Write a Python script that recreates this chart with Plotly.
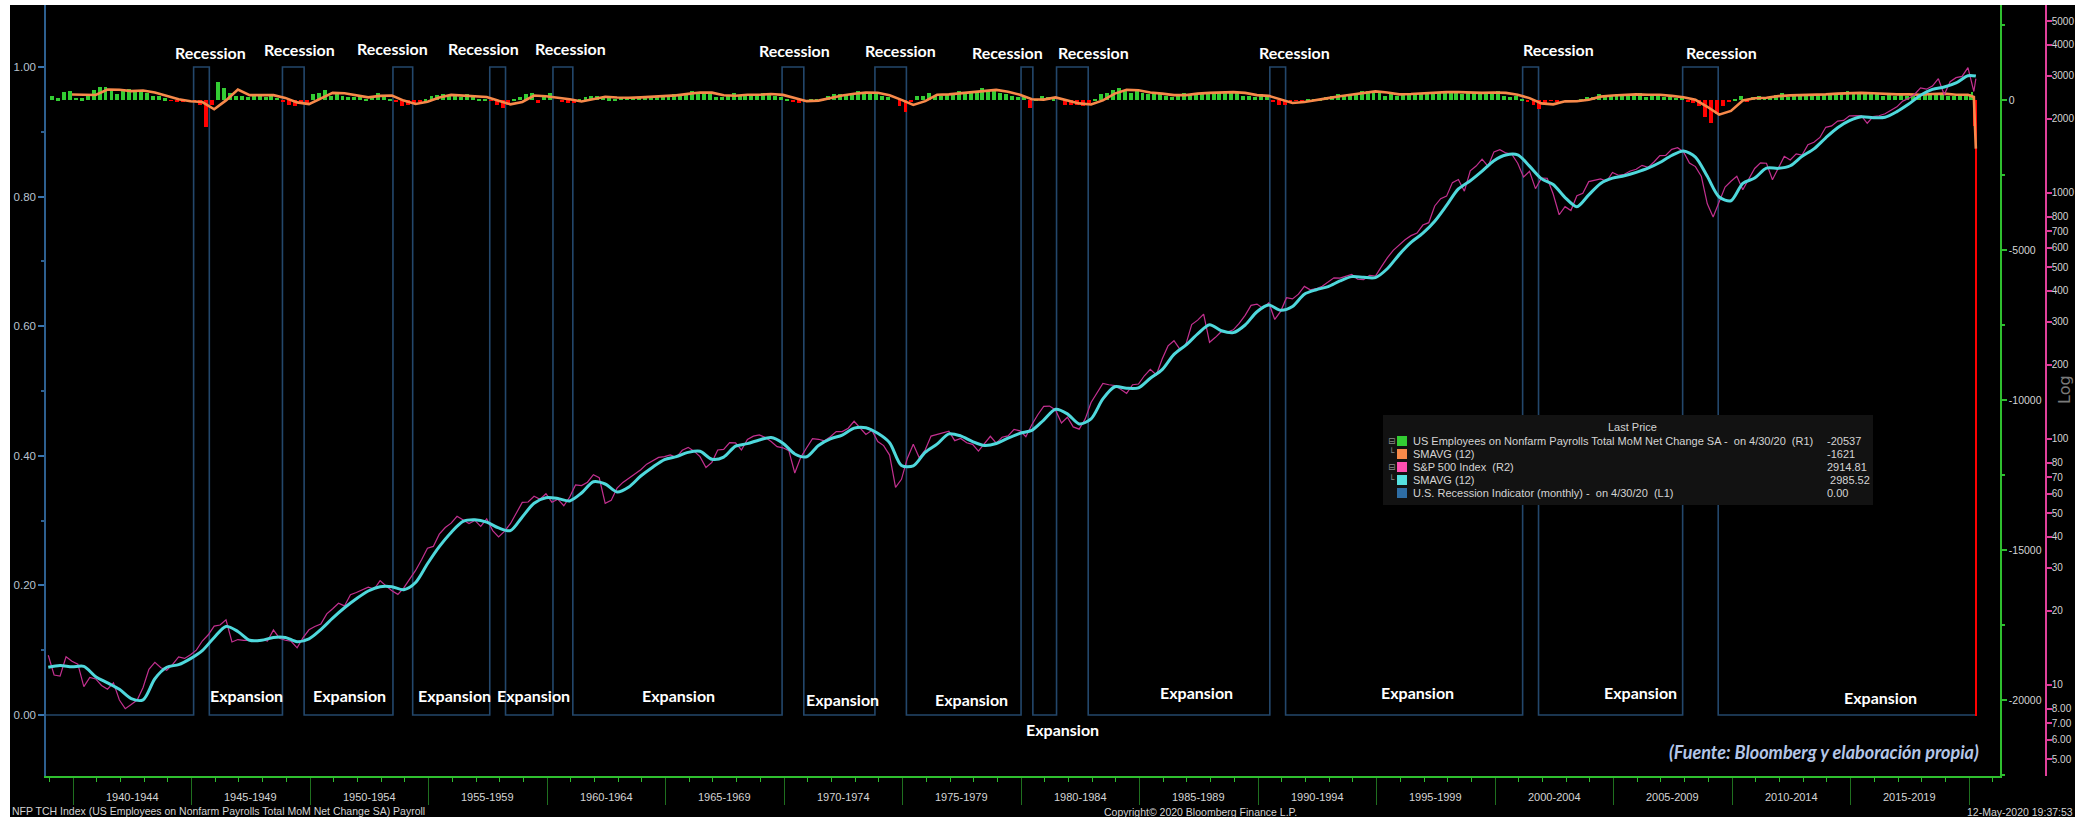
"""
NFP vs S&P 500 con indicador de recesión (estilo Bloomberg)
"""

import pandas as pd
import plotly.graph_objects as go

# ---------------- datos ----------------

# S&P 500, cierre trimestral (dic-1938 ... mar-2020) + abr-2020
sp500 = [
    13.21,
    10.98, 10.86, 13.02, 12.49,      # 1939
    12.15, 9.85, 10.73, 10.58,       # 1940
    9.95, 9.61, 10.20, 8.69,         # 1941
    8.01, 8.33, 8.68, 9.77,          # 1942
    11.58, 12.35, 11.75, 11.48,      # 1943
    12.12, 13.00, 12.82, 13.28,      # 1944
    13.86, 15.09, 16.00, 17.36,      # 1945
    17.53, 18.40, 14.96, 15.30,      # 1946
    15.17, 15.21, 15.11, 15.30,      # 1947
    15.08, 16.74, 15.49, 15.20,      # 1948
    15.06, 14.16, 15.58, 16.76,      # 1949
    17.29, 17.69, 19.45, 20.41,      # 1950
    21.48, 20.96, 23.26, 23.77,      # 1951
    24.37, 24.96, 24.54, 26.57,      # 1952
    25.29, 24.14, 23.35, 24.81,      # 1953
    26.94, 29.21, 32.31, 35.98,      # 1954
    36.58, 41.03, 43.67, 45.48,      # 1955
    48.48, 46.97, 45.35, 46.67,      # 1956
    44.11, 47.37, 42.42, 39.99,      # 1957
    42.10, 45.24, 50.06, 55.21,      # 1958
    55.44, 58.47, 56.88, 59.89,      # 1959
    55.34, 56.92, 53.52, 58.11,      # 1960
    65.06, 64.64, 66.73, 71.55,      # 1961
    69.55, 54.75, 56.27, 63.10,      # 1962
    66.57, 69.37, 71.70, 75.02,      # 1963
    78.98, 81.69, 84.18, 84.75,      # 1964
    86.16, 84.12, 89.96, 92.43,      # 1965
    89.23, 84.74, 76.56, 80.33,      # 1966
    90.20, 90.64, 96.71, 96.47,      # 1967
    90.20, 99.58, 102.67, 103.86,    # 1968
    101.51, 97.71, 93.12, 92.06,     # 1969
    89.63, 72.72, 84.21, 92.15,      # 1970
    100.31, 99.70, 98.34, 102.09,    # 1971
    107.20, 107.14, 110.55, 118.05,  # 1972
    111.52, 104.26, 108.43, 97.55,   # 1973
    93.98, 86.00, 63.54, 68.56,      # 1974
    83.36, 95.19, 83.87, 90.19,      # 1975
    102.77, 104.28, 105.24, 107.46,  # 1976
    98.42, 100.48, 96.53, 95.10,     # 1977
    89.21, 95.53, 102.54, 96.11,     # 1978
    101.59, 102.91, 109.32, 107.94,  # 1979
    102.09, 114.24, 125.46, 135.76,  # 1980
    136.00, 131.21, 116.18, 122.55,  # 1981
    111.96, 109.61, 120.42, 140.64,  # 1982
    152.96, 168.11, 166.07, 164.93,  # 1983
    159.18, 153.18, 166.10, 167.24,  # 1984
    180.66, 191.85, 182.08, 211.28,  # 1985
    238.90, 250.84, 231.32, 242.17,  # 1986
    291.70, 304.00, 321.83, 247.08,  # 1987
    258.89, 273.50, 271.91, 277.72,  # 1988
    294.87, 317.98, 349.15, 353.40,  # 1989
    339.94, 358.02, 306.05, 330.22,  # 1990
    375.22, 371.16, 387.86, 417.09,  # 1991
    403.69, 408.14, 417.80, 435.71,  # 1992
    451.67, 450.53, 458.93, 466.45,  # 1993
    445.77, 444.27, 462.69, 459.27,  # 1994
    500.71, 544.75, 584.41, 615.93,  # 1995
    645.50, 670.63, 687.33, 740.74,  # 1996
    757.12, 885.14, 947.28, 970.43,  # 1997
    1101.75, 1133.84, 1017.01, 1229.23,  # 1998
    1286.37, 1372.71, 1282.71, 1469.25,  # 1999
    1498.58, 1454.60, 1436.51, 1320.28,  # 2000
    1160.33, 1224.42, 1040.94, 1148.08,  # 2001
    1147.39, 989.82, 815.28, 879.82,     # 2002
    848.18, 974.50, 995.97, 1111.92,     # 2003
    1126.21, 1140.84, 1114.58, 1211.92,  # 2004
    1180.59, 1191.33, 1228.81, 1248.29,  # 2005
    1294.83, 1270.20, 1335.85, 1418.30,  # 2006
    1420.86, 1503.35, 1526.75, 1468.36,  # 2007
    1322.70, 1280.00, 1166.36, 903.25,   # 2008
    797.87, 919.32, 1057.08, 1115.10,    # 2009
    1169.43, 1030.71, 1141.20, 1257.64,  # 2010
    1325.83, 1320.64, 1131.42, 1257.60,  # 2011
    1408.47, 1362.16, 1440.67, 1426.19,  # 2012
    1569.19, 1606.28, 1681.55, 1848.36,  # 2013
    1872.34, 1960.23, 1972.29, 2058.90,  # 2014
    2067.89, 2063.11, 1920.03, 2043.94,  # 2015
    2059.74, 2098.86, 2168.27, 2238.83,  # 2016
    2362.72, 2423.41, 2519.36, 2673.61,  # 2017
    2640.87, 2718.37, 2913.98, 2506.85,  # 2018
    2834.40, 2941.76, 2976.74, 3230.78,  # 2019
    2584.59,                             # mar-2020
    2914.81,                             # abr-2020
]

# SMAVG(12) del S&P, semestral (dic-1938, jun/dic 1939..2019) + abr-2020
sp500_sma = [
    11.8,
    12.0, 11.85, 11.9, 10.8, 10.2, 9.6, 8.8, 8.7, 10.6, 11.8,        # 1939-43
    12.1, 12.8, 13.8, 15.6, 17.3, 16.5, 15.2, 15.2, 15.6, 15.6,      # 1944-48
    15.0, 15.4, 16.8, 18.7, 20.6, 22.4, 24.1, 25.1, 25.1, 24.4,      # 1949-53
    26.1, 31.1, 36.5, 41.7, 46.2, 46.9, 45.9, 43.5, 42.4, 48.2,      # 1954-58
    54.8, 57.7, 57.3, 56.0, 60.3, 67.0, 65.6, 60.9, 63.8, 70.7,      # 1959-63
    76.8, 82.4, 84.8, 88.2, 89.1, 82.7, 84.4, 93.5, 95.7, 99.1,      # 1964-68
    101.4, 96.1, 86.9, 84.7, 94.1, 100.1, 103.7, 110.7, 111.1, 105.4,  # 1969-73
    96.5, 78.0, 77.7, 88.2, 95.3, 104.9, 102.9, 97.6, 94.1, 95.8,    # 1974-78
    100.8, 105.4, 108.4, 119.4, 132.1, 126.5, 115.1, 120.7, 145.5, 163.0,  # 1979-83
    160.8, 161.4, 176.5, 191.5, 220.8, 240.8, 267.3, 291.2, 275.3, 270.5,  # 1984-88
    290.6, 328.9, 350.1, 333.6, 345.7, 387.8, 404.2, 416.3, 438.9, 456.9,  # 1989-93
    453.9, 453.0, 491.9, 561.5, 629.1, 686.1, 767.6, 890.0, 1038.3, 1120.5,  # 1994-98
    1226.3, 1352.8, 1426.3, 1427.5, 1285.4, 1143.4, 1081.6, 958.1, 879.4, 982.6,  # 1999-03
    1093.7, 1148.4, 1174.6, 1212.3, 1260.5, 1329.8, 1419.6, 1479.8, 1399.5, 1168.1,  # 2004-08
    963.0, 930.0, 1093.1, 1149.7, 1261.3, 1258.9, 1289.9, 1409.4, 1510.6, 1676.3,  # 2009-13
    1840.6, 1965.9, 2040.5, 2023.7, 2030.6, 2141.4, 2298.3, 2494.8, 2638.1, 2695.0,  # 2014-18
    2799.2, 2995.9,                                                    # 2019
    2985.52,                                                           # abr-2020
]

# Nómina no agrícola, variación mensual media por trimestre (miles), 1939..2019
payroll_q = [
    120, 60, 260, 300,       # 1939
    80, 60, 200, 330,        # 1940
    450, 420, 300, 200,      # 1941
    300, 380, 330, 260,      # 1942
    250, 150, 120, 60,       # 1943
    -20, -60, -40, -50,      # 1944
    -30, -150, -900, -150,   # 1945
    600, 400, 250, 150,      # 1946
    150, 100, 200, 200,      # 1947
    100, 150, 80, -50,       # 1948
    -150, -200, -50, -150,   # 1949
    200, 250, 350, 150,      # 1950
    250, 150, 100, 100,      # 1951
    100, 50, 150, 250,       # 1952
    150, 50, -80, -200,      # 1953
    -150, -100, -40, 50,     # 1954
    150, 180, 200, 150,      # 1955
    120, 100, 200, 130,      # 1956
    50, 20, -30, -150,       # 1957
    -250, -150, 50, 100,     # 1958
    200, 250, -100, 150,     # 1959
    250, 0, -50, -100,       # 1960
    -100, 50, 100, 120,      # 1961
    120, 100, 60, 50,        # 1962
    80, 100, 100, 70,        # 1963
    120, 130, 150, 100,      # 1964
    170, 200, 200, 250,      # 1965
    300, 250, 230, 200,      # 1966
    100, 100, 150, 220,      # 1967
    150, 180, 170, 200,      # 1968
    230, 200, 150, 100,      # 1969
    50, -50, -100, -50,      # 1970
    20, 50, 50, 150,         # 1971
    200, 200, 180, 250,      # 1972
    300, 250, 200, 220,      # 1973
    120, 100, 0, -200,       # 1974
    -400, -50, 150, 150,     # 1975
    250, 150, 150, 200,      # 1976
    250, 300, 250, 300,      # 1977
    300, 400, 300, 350,      # 1978
    250, 200, 150, 100,      # 1979
    100, -250, 50, 150,      # 1980
    100, 50, 0, -150,        # 1981
    -150, -150, -200, -100,  # 1982
    50, 200, 250, 350,       # 1983
    400, 350, 250, 300,      # 1984
    250, 200, 200, 200,      # 1985
    150, 100, 150, 250,      # 1986
    200, 250, 250, 250,      # 1987
    250, 250, 250, 300,      # 1988
    250, 150, 150, 100,      # 1989
    200, 100, -50, -150,     # 1990
    -150, -50, -30, -30,     # 1991
    50, 50, 50, 100,         # 1992
    150, 200, 150, 200,      # 1993
    250, 300, 300, 300,      # 1994
    250, 150, 200, 150,      # 1995
    200, 250, 200, 250,      # 1996
    250, 250, 250, 300,      # 1997
    250, 250, 200, 250,      # 1998
    250, 250, 250, 250,      # 1999
    300, 150, 100, 150,      # 2000
    50, -50, -150, -300,     # 2001
    -100, -30, -50, 0,       # 2002
    -50, -60, 50, 100,       # 2003
    100, 200, 150, 150,      # 2004
    200, 200, 150, 200,      # 2005
    250, 100, 150, 200,      # 2006
    100, 100, 80, 100,       # 2007
    -50, -100, -200, -550,   # 2008
    -750, -450, -200, -50,   # 2009
    30, 150, -50, 100,       # 2010
    150, 100, 100, 170,      # 2011
    250, 100, 150, 150,      # 2012
    200, 150, 200, 200,      # 2013
    200, 250, 200, 300,      # 2014
    200, 250, 200, 250,      # 2015
    200, 150, 250, 150,      # 2016
    200, 150, 150, 200,      # 2017
    250, 200, 200, 200,      # 2018
    150, 150, 200, 200,      # 2019
]
# ene..abr 2020, mensual
payroll_2020 = [214, 251, -870, -20537]

# SMAVG(12) de la nómina, semestral (dic-1939, jun/dic 1940..2019) + mar/abr-2020
payroll_sma = [
    185,
    175, 168, 350, 343, 295, 318, 248, 145, 25, -43,        # 1940-44
    -68, -308, -13, 350, 163, 163, 163, 70, -80, -138,      # 1945-49
    63, 238, 225, 150, 88, 138, 150, -20, -133, -60,        # 1950-54
    85, 170, 143, 138, 100, -28, -145, -63, 150, 125,       # 1955-59
    75, 25, -50, 43, 110, 83, 73, 88, 105, 125,             # 1960-64
    155, 205, 250, 245, 158, 143, 175, 175, 200, 170,       # 1965-69
    63, -38, -20, 68, 150, 208, 245, 243, 160, 5,           # 1970-74
    -163, -38, 175, 188, 225, 275, 313, 338, 275, 175,      # 1975-79
    25, 13, 88, 0, -113, -150, -13, 213, 338, 325,          # 1980-84
    250, 213, 163, 163, 213, 238, 250, 263, 238, 163,       # 1985-89
    138, 25, -100, -65, 10, 63, 125, 175, 225, 288,         # 1990-94
    250, 188, 200, 225, 238, 263, 263, 238, 238, 250,       # 1995-99
    238, 175, 63, -113, -145, -45, -40, 10, 113, 150,       # 2000-04
    175, 188, 175, 175, 138, 95, 8, -225, -488, -363,       # 2005-09
    -18, 58, 75, 130, 155, 163, 163, 188, 213, 238,         # 2010-14
    238, 225, 200, 188, 188, 175, 200, 213, 175, 175,       # 2015-19
    100, -1621,                                             # mar/abr-2020
]

# Recesiones (indicador = 1 entre inicio y fin)
rec_start = ['1945-02', '1948-11', '1953-07', '1957-08', '1960-04', '1969-12',
             '1973-11', '1980-01', '1981-07', '1990-07', '2001-03', '2007-12']
rec_end = ['1945-10', '1949-10', '1954-05', '1958-04', '1961-02', '1970-11',
           '1975-03', '1980-07', '1982-11', '1991-03', '2001-11', '2009-06']

period_starts = list(range(1940, 2020, 5))

# ---------------- fechas ----------------
q3 = pd.DateOffset(months=3)
m6 = pd.DateOffset(months=6)

sp_dates = list(pd.date_range('1938-12-15', periods=len(sp500) - 1, freq=q3)) + [pd.Timestamp('2020-04-15')]
sma_dates = list(pd.date_range('1938-12-15', periods=len(sp500_sma) - 1, freq=m6)) + [pd.Timestamp('2020-04-15')]
pay_dates = list(pd.date_range('1939-02-15', periods=len(payroll_q), freq=q3)) + \
    list(pd.date_range('2020-01-15', periods=len(payroll_2020), freq=pd.DateOffset(months=1)))
pay_values = payroll_q + payroll_2020
pay_widths = [60 * 86400000] * len(payroll_q) + [20 * 86400000] * len(payroll_2020)
pay_colors = ['#33cc33' if v >= 0 else '#ff0000' for v in pay_values]
pay_sma_dates = list(pd.date_range('1939-12-15', periods=len(payroll_sma) - 2, freq=m6)) + \
    [pd.Timestamp('2020-03-15'), pd.Timestamp('2020-04-15')]

months = pd.date_range('1938-10-01', '2020-05-01', freq='MS')
rec_flag = []
for m in months:
    flag = 0
    for s, e in zip(rec_start, rec_end):
        if pd.Timestamp(s) <= m < pd.Timestamp(e):
            flag = 1
    rec_flag.append(flag)

# ---------------- lienzo ----------------
W, H = 2075, 817
ML, MR, MT, MB = 46, 29, 5, 41


def px(x):
    return (x - ML) / (W - ML - MR)


def py(y):
    return (H - MB - y) / (H - MT - MB)


NARROW = "Liberation Sans, Arial, sans-serif"
BOLD = "Lato, Open Sans, sans-serif"
TXT = '#d4d4d4'


def note(x, y, text, size=11, color=TXT, family=NARROW, xanchor='center', **kw):
    d = dict(x=px(x), y=py(y), xref='paper', yref='paper', text=text, showarrow=False,
             xanchor=xanchor, yanchor='middle',
             font=dict(family=family, size=size, color=color))
    d.update(kw)
    return d


fig = go.Figure()

fig.add_trace(go.Scatter(
    x=months, y=rec_flag, mode='lines', name='U.S. Recession Indicator',
    line=dict(color='#23476b', width=1.6, shape='hv'), yaxis='y'
))
fig.add_trace(go.Bar(
    x=pay_dates, y=pay_values, width=pay_widths, name='NFP',
    marker=dict(color=pay_colors, line=dict(width=0)), yaxis='y2'
))
fig.add_trace(go.Scatter(
    x=pay_sma_dates, y=payroll_sma, mode='lines', name='SMAVG (12)',
    line=dict(color='#f7894a', width=2.6), yaxis='y2'
))
fig.add_trace(go.Scatter(
    x=sp_dates, y=sp500, mode='lines', name='S&P 500 Index',
    line=dict(color='#c2308f', width=1.2), yaxis='y3'
))
fig.add_trace(go.Scatter(
    x=sma_dates, y=sp500_sma, mode='lines', name='SMAVG (12)',
    line=dict(color='#4fd8dc', width=3, shape='spline', smoothing=0.8), yaxis='y3'
))

# ---------------- anotaciones ----------------
ann = []

rec_label_pos = [(210, 52), (299, 49), (392, 48), (483, 48), (570, 48), (794, 50),
                 (900, 50), (1007, 52), (1093, 52), (1294, 52), (1558, 49), (1721, 52)]
exp_label_pos = [(246, 695), (349, 695), (454, 695), (533, 695), (678, 695), (842, 699),
                 (971, 699), (1062, 729), (1196, 692), (1417, 692), (1640, 692), (1880, 697)]
for (lx, ly) in rec_label_pos:
    ann.append(note(lx, ly, '<b>Recession</b>', size=16, color='white', family=BOLD))
for (lx, ly) in exp_label_pos:
    ann.append(note(lx, ly, '<b>Expansion</b>', size=16, color='white', family=BOLD))

# etiquetas de periodo en el eje x
for y0 in period_starts:
    ann.append(dict(x=f'{y0 + 2}-07-01', xref='x', y=py(797), yref='paper',
                    xanchor='center', yanchor='middle',
                    text=f'{y0}-{y0 + 4}', showarrow=False,
                    font=dict(family=NARROW, size=11, color=TXT)))

ann.append(note(2064, 390, 'Log', size=16, color='#7a7a7a', family='DejaVu Sans, sans-serif',
                textangle=-90))
ann.append(note(1981, 752, '<b><i>(Fuente: Bloomberg y elaboración propia)</i></b>', size=18,
                color='#b4c6e7', family=BOLD, xanchor='right'))

# pie
ann.append(note(10, 811, 'NFP TCH Index (US Employees on Nonfarm Payrolls Total MoM Net Change SA) Payroll',
                size=10.5, xanchor='left'))
ann.append(note(1200, 812, 'Copyright© 2020 Bloomberg Finance L.P.', size=10.5))
ann.append(note(2075, 812, '12-May-2020 19:37:53', size=10.5, xanchor='right'))

# leyenda tipo Bloomberg
legend_rows = [
    ('#33cc33', 'US Employees on Nonfarm Payrolls Total MoM Net Change SA -  on 4/30/20  (R1)', '-20537'),
    ('#f7894a', 'SMAVG (12)', '-1621'),
    ('#ff4fb0', 'S&P 500 Index  (R2)', '2914.81'),
    ('#55e0e0', 'SMAVG (12)', ' 2985.52'),
    ('#2e6da4', 'U.S. Recession Indicator (monthly) -  on 4/30/20  (L1)', '0.00'),
]
row_y = [441, 454, 467, 480, 493]
shapes = [
    dict(type='rect', xref='paper', yref='paper', x0=px(1383), x1=px(1873),
         y0=py(505), y1=py(415), fillcolor='#121212', line=dict(width=0), layer='above'),
]
ann.append(note(1632, 427, 'Last Price', size=11))
for (col, label, val), ry in zip(legend_rows, row_y):
    shapes.append(dict(type='rect', xref='paper', yref='paper', x0=px(1397), x1=px(1407),
                       y0=py(ry + 5), y1=py(ry - 5), fillcolor=col, line=dict(width=0), layer='above'))
    ann.append(note(1411, ry, label, size=11, xanchor='left'))
    ann.append(note(1825, ry, val, size=11, xanchor='left'))
for ry, glyph in [(441, '⊟'), (453, '└'), (467, '⊟'), (479, '└')]:
    ann.append(note(1392, ry, glyph, size=9, color='#8a8a8a', family='DejaVu Sans, sans-serif'))

# bordes blancos de la captura
shapes.append(dict(type='rect', xref='paper', yref='paper', x0=px(0), x1=px(W),
                   y0=py(5), y1=py(0), fillcolor='white', line=dict(width=0), layer='above'))
shapes.append(dict(type='rect', xref='paper', yref='paper', x0=px(0), x1=px(10),
                   y0=py(H), y1=py(0), fillcolor='white', line=dict(width=0), layer='above'))

# ---------------- ejes ----------------
sp_ticks = [5, 6, 7, 8, 10, 20, 30, 40, 50, 60, 70, 80, 100, 200, 300, 400, 500, 600, 700, 800,
            1000, 2000, 3000, 4000, 5000]
sp_ticktext = ['5.00', '6.00', '7.00', '8.00'] + [str(v) for v in sp_ticks[4:]]
nfp_ticks = [0, -5000, -10000, -15000, -20000]

fig.update_layout(
    width=W, height=H,
    margin=dict(l=ML, r=MR, t=MT, b=MB, autoexpand=False),
    paper_bgcolor='black', plot_bgcolor='black',
    showlegend=False, bargap=0,
    xaxis=dict(
        type='date', domain=[0, px(2000)], range=['1938-11-10', '2021-04-22'],
        showline=True, linecolor='#2fbf2f', linewidth=1.5, showgrid=False, zeroline=False,
        tickmode='array', tickvals=[f'{y}-01-01' for y in period_starts + [2020]],
        ticks='outside', ticklen=27, tickcolor='#1f6f1f', tickwidth=1, showticklabels=False,
        minor=dict(tickmode='array', tickvals=[f'{y}-01-01' for y in range(1939, 2022)],
                   ticks='outside', ticklen=4, tickcolor='#2fbf2f', showgrid=False),
    ),
    yaxis=dict(
        range=[-0.0941, 1.0957], tickmode='array', tickvals=[0, 0.2, 0.4, 0.6, 0.8, 1.0],
        tickformat='.2f', ticks='outside', ticklen=6, tickwidth=2, tickcolor='#3a76b0',
        showline=True, linecolor='#2d5f8f', linewidth=1.5, showgrid=False, zeroline=False,
        tickfont=dict(family=NARROW, size=11.5, color='#b8c3cf'),
        minor=dict(tickmode='linear', tick0=0, dtick=0.1, ticks='outside', ticklen=3,
                   tickcolor='#2d5f8f', showgrid=False),
    ),
    yaxis2=dict(
        overlaying='y', side='right', anchor='x', range=[-22533, 3167],
        tickmode='array', tickvals=nfp_ticks, ticktext=[str(v) for v in nfp_ticks],
        ticks='outside', ticklen=5, tickwidth=2, tickcolor='#2fbf2f',
        showline=True, linecolor='#2fbf2f', linewidth=1.5, showgrid=False, zeroline=False,
        tickfont=dict(family=NARROW, size=10.5, color=TXT),
        minor=dict(tickmode='linear', tick0=0, dtick=2500, ticks='outside', ticklen=3,
                   tickcolor='#2fbf2f', showgrid=False),
    ),
    yaxis3=dict(
        type='log', overlaying='y', side='right', anchor='free', position=1.0,
        range=[0.630, 3.764], tickmode='array', tickvals=sp_ticks, ticktext=sp_ticktext,
        ticks='outside', ticklen=5, tickwidth=2, tickcolor='#e0409a',
        showline=True, linecolor='#e0409a', linewidth=1.5, showgrid=False, zeroline=False,
        tickfont=dict(family=NARROW, size=10, color=TXT), ticklabelstandoff=-2,
    ),
    annotations=ann,
    shapes=shapes,
)

# el body trae margen por defecto: lo quitamos para que la figura ocupe toda la ventana
fig.write_html("out.html", config={'displayModeBar': False},
               post_script="document.body.style.margin='0px';")
